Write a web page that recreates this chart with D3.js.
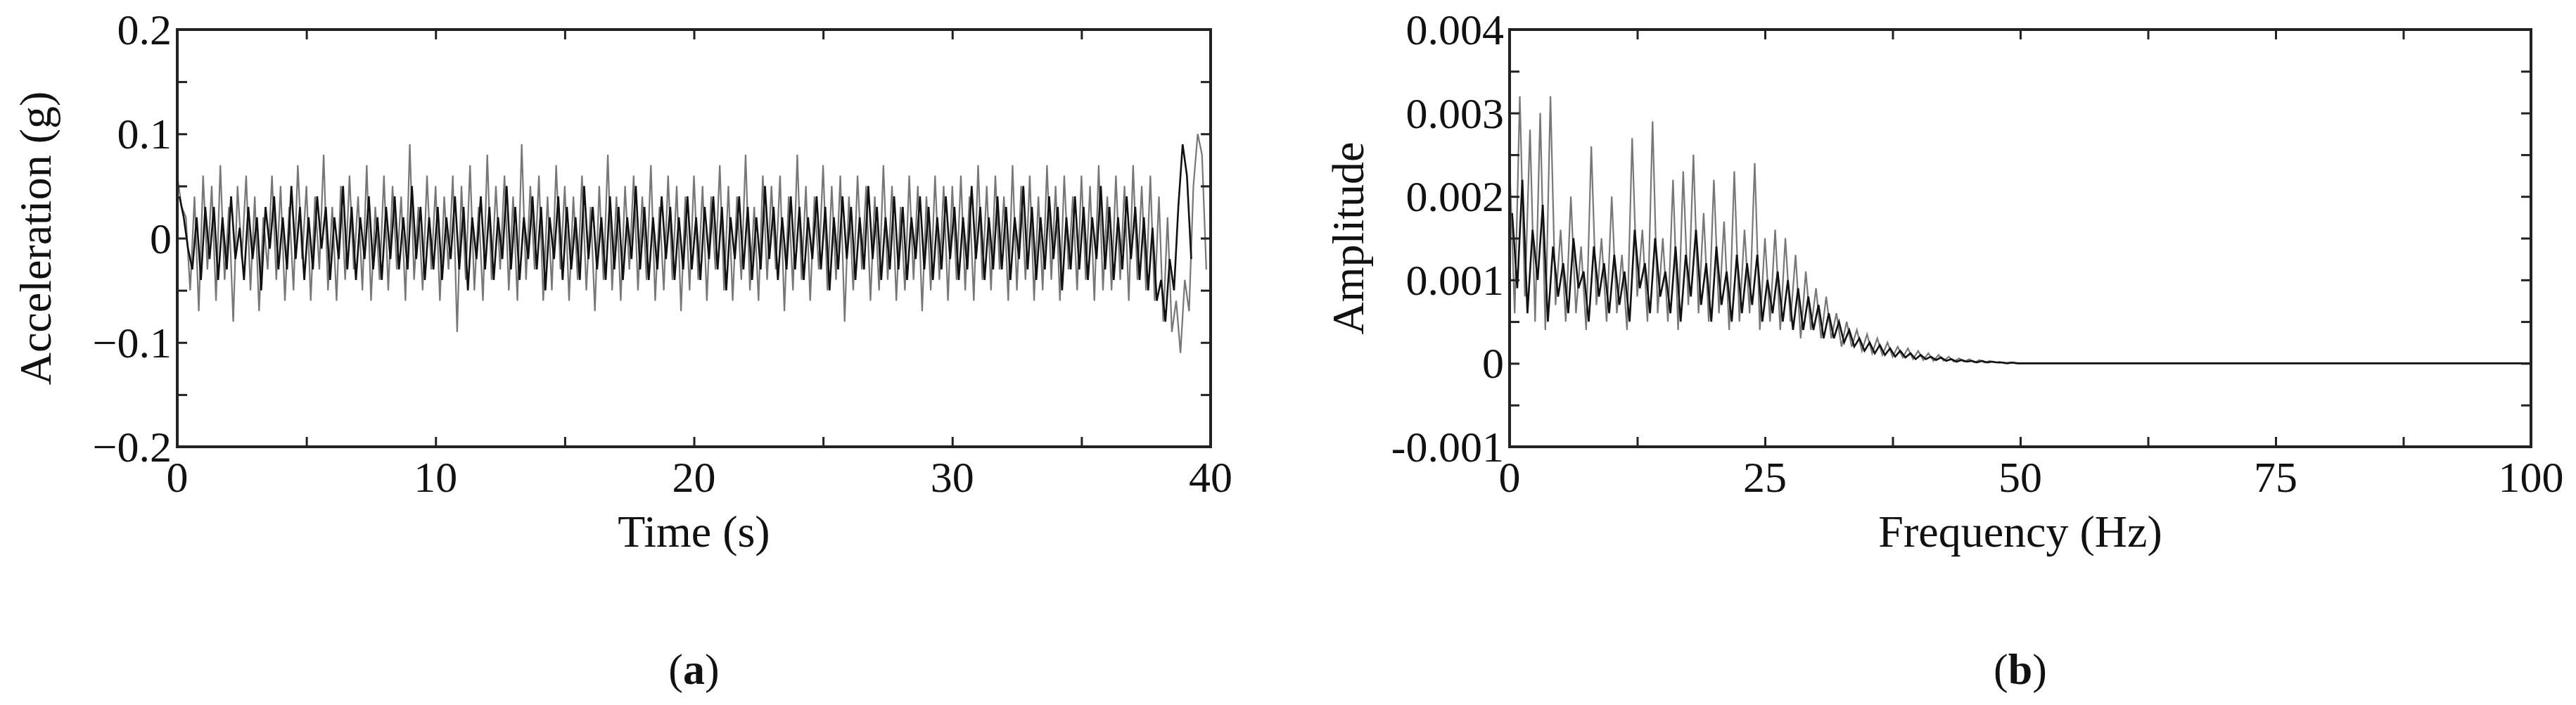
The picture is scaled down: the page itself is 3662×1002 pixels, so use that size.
<!DOCTYPE html>
<html><head><meta charset="utf-8">
<script src="https://cdn.jsdelivr.net/npm/d3@7"></script>
<style>body{margin:0;background:#fff}svg{display:block}text{font-family:"Liberation Serif","DejaVu Serif",serif;fill:#111}</style>
</head><body>
<script>
// Panel (a): acceleration time history, sampled every 1/6 s from 0 to 40 s (g)
const accelStep = 1/6;
const accel = [
.06,.03,.02,-.05,.04,-.07,.06,-.03,.05,-.06,.07,-.04,.03,-.08,.05,-.02,.06,-.05,.04,-.07,.02,-.03,.06,-.04,.05,-.06,.03,-.05,.07,-.02,.05,-.06,.04,-.03,.08,-.05,.03,-.06,.05,-.04,.06,-.03,.04,-.05,.07,-.06,.03,-.04,.06,-.05,.05,-.03,.04,-.06,.09,-.04,.03,-.05,.06,-.03,
.05,-.06,.04,-.03,.06,-.09,.05,-.04,.07,-.05,.03,-.06,.08,-.04,.05,-.03,.06,-.05,.04,-.06,.09,-.04,.05,-.03,.06,-.06,.04,-.05,.07,-.03,.05,-.06,.04,-.04,.06,-.05,.03,-.07,.05,-.04,.08,-.05,.04,-.06,.05,-.03,.06,-.05,.04,-.04,.07,-.06,.03,-.05,.06,-.04,.05,-.07,.04,-.05,
.06,-.04,.05,-.06,.04,-.03,.07,-.05,.05,-.06,.04,-.04,.08,-.05,.03,-.06,.06,-.04,.05,-.03,.06,-.07,.04,-.05,.08,-.04,.05,-.06,.04,-.03,.07,-.05,.05,-.04,.06,-.08,.04,-.05,.06,-.03,.05,-.06,.04,-.05,.07,-.04,.05,-.06,.03,-.05,.06,-.04,.05,-.07,.04,-.05,.06,-.04,.05,-.06,
.05,-.04,.06,-.05,.04,-.06,.07,-.04,.05,-.05,.06,-.03,.04,-.06,.07,-.05,.05,-.04,.06,-.06,.04,-.05,.07,-.04,.05,-.06,.06,-.03,.04,-.05,.06,-.04,.05,-.06,.07,-.05,.04,-.05,.06,-.04,.05,-.06,.07,-.04,.05,-.05,.06,-.06,.04,-.08,.02,-.09,-.06,-.11,-.04,-.07,.05,.1,.08,-.03];
// second trace (grey, dense core), sampled between the samples above
const accelCore = [
.04,.02,-.01,-.03,.02,-.04,.03,-.02,.03,-.04,.02,-.03,.04,-.02,.01,-.04,.03,-.02,.02,-.05,.03,-.01,.04,-.03,.02,-.03,.05,-.02,.03,-.04,.02,-.03,.04,-.01,.03,-.04,.02,-.02,.05,-.03,.03,-.04,.02,-.02,.04,-.03,.02,-.04,.03,-.02,.04,-.03,.02,-.03,.05,-.02,.03,-.04,.02,-.03,
.03,-.04,.02,-.02,.04,-.03,.03,-.05,.02,-.02,.04,-.03,.03,-.04,.02,-.02,.05,-.03,.03,-.04,.02,-.02,.04,-.03,.03,-.05,.02,-.02,.04,-.04,.03,-.03,.02,-.04,.05,-.02,.03,-.03,.02,-.04,.04,-.03,.03,-.04,.02,-.02,.05,-.03,.03,-.04,.02,-.03,.04,-.02,.03,-.04,.02,-.03,
.04,-.03,.02,-.04,.03,-.02,.04,-.03,.03,-.05,.02,-.02,.04,-.03,.03,-.04,.02,-.03,.05,-.02,.03,-.04,.02,-.03,.04,-.03,.03,-.04,.02,-.02,.04,-.03,.03,-.05,.02,-.03,.04,-.02,.03,-.04,.02,-.03,.05,-.02,.03,-.04,.02,-.03,.04,-.03,.03,-.04,.02,-.02,.04,-.03,.03,-.04,.02,-.03,
.04,-.02,.03,-.04,.02,-.03,.05,-.02,.03,-.04,.02,-.03,.04,-.03,.03,-.04,.02,-.02,.05,-.03,.03,-.04,.02,-.03,.04,-.02,.03,-.05,.02,-.03,.04,-.03,.03,-.04,.02,-.02,.05,-.03,.03,-.04,.02,-.03,.04,-.02,.03,-.04,.02,-.05,.01,-.06,-.04,-.08,-.02,-.05,.03,.09,.06,-.02];
const accelTicks = [0,10,20,30,40];
const accelYTicks = [-0.2,-0.1,0,0.1,0.2];
const accelYLabels = ["\u22120.2","\u22120.1","0","0.1","0.2"];

// Panel (b): Fourier amplitude spectrum (×0.001), sampled every 0.5 Hz from 0 to 49.5 Hz, zero up to 100 Hz
const specStep = 0.5;
const spectrum = [
2.4,0.6,3.2,0.8,2.8,0.5,3.0,0.4,3.2,0.7,
1.6,0.5,2.0,0.6,1.4,0.4,2.6,0.7,1.5,0.5,
2.0,0.6,1.3,0.4,2.7,0.8,1.6,0.5,2.9,0.6,
1.5,0.5,2.2,0.4,2.3,0.7,2.5,0.6,1.8,0.5,
2.2,0.6,1.7,0.4,2.3,0.5,1.6,0.6,2.4,0.4,
1.5,0.5,1.6,0.4,1.5,0.5,1.3,0.3,1.1,0.4,
0.9,0.3,0.8,0.3,0.6,0.2,0.5,0.2,0.4,0.15,
0.35,0.12,0.3,0.1,0.25,0.08,0.2,0.07,0.18,0.05,
0.15,0.04,0.12,0.03,0.1,0.03,0.08,0.02,0.06,0.02,
0.05,0.01,0.04,0.01,0.03,0.01,0.02,0,0.01,0];
// second trace (dense core), sampled between the samples above
const spectrumCore = [
1.8,0.9,2.2,0.6,1.6,1.0,1.9,0.5,1.4,0.8,
1.2,0.6,1.5,0.9,1.1,0.5,1.4,0.8,1.2,0.6,
1.3,0.7,1.1,0.5,1.6,0.9,1.2,0.6,1.5,0.8,
1.1,0.6,1.4,0.5,1.3,0.8,1.6,0.7,1.2,0.5,
1.4,0.7,1.1,0.5,1.3,0.6,1.2,0.7,1.3,0.5,
1.0,0.6,1.1,0.5,1.0,0.4,0.9,0.4,0.8,0.4,
0.7,0.3,0.6,0.3,0.5,0.25,0.4,0.2,0.3,0.15,
0.25,0.12,0.22,0.1,0.18,0.08,0.15,0.07,0.12,0.05,
0.1,0.05,0.08,0.04,0.07,0.03,0.05,0.02,0.04,0.02,
0.03,0.01,0.03,0.01,0.02,0.01,0.01,0,0.01,0];
const specTail = [[50,0],[100,0]];
const specXTicks = [0,25,50,75,100];
const specYTicks = [-1,0,1,2,3,4];
const specYLabels = ["-0.001","0","0.001","0.002","0.003","0.004"];

const W=3662,H=1002;
const svg=d3.select("body").append("svg").attr("width",W).attr("height",H);

function panel(o){
  const g=svg.append("g");
  const x=d3.scaleLinear().domain(o.xd).range([o.x0,o.x1]);
  const y=d3.scaleLinear().domain(o.yd).range([o.y1,o.y0]);
  const line=d3.line().x(d=>x(d[0])).y(d=>y(d[1]));
  g.append("path").datum(o.data).attr("fill","none").attr("stroke","#777").attr("stroke-width",2.2).attr("d",line);
  g.append("path").datum(o.core).attr("fill","none").attr("stroke","#111").attr("stroke-width",2.6).attr("d",line);
  g.append("rect").attr("x",o.x0).attr("y",o.y0).attr("width",o.x1-o.x0).attr("height",o.y1-o.y0)
    .attr("fill","none").attr("stroke","#222").attr("stroke-width",4);
  const tl=14;
  g.append("g").attr("transform",`translate(0,${o.y1})`).call(d3.axisBottom(x).tickValues(o.xMinor).tickSize(-tl).tickFormat(""));
  g.append("g").attr("transform",`translate(0,${o.y0})`).call(d3.axisTop(x).tickValues(o.xMinor).tickSize(-tl).tickFormat(""));
  g.append("g").attr("transform",`translate(${o.x0},0)`).call(d3.axisLeft(y).tickValues(o.yMinor).tickSize(-tl).tickFormat(""));
  g.append("g").attr("transform",`translate(${o.x1},0)`).call(d3.axisRight(y).tickValues(o.yMinor).tickSize(-tl).tickFormat(""));
  g.selectAll(".domain").remove();
  g.selectAll(".tick line").attr("stroke","#222").attr("stroke-width",3);
  o.xt.forEach(v=>g.append("text").attr("x",x(v)).attr("y",o.y1+64).attr("text-anchor","middle").attr("font-size",62).text(v));
  o.yt.forEach((v,i)=>g.append("text").attr("x",o.x0-8).attr("y",y(v)+21).attr("text-anchor","end").attr("font-size",62).text(o.yl[i]));
  g.append("text").attr("x",(o.x0+o.x1)/2).attr("y",o.y1+142).attr("text-anchor","middle").attr("font-size",64).text(o.xTitle);
  g.append("text").attr("transform",`translate(${o.ytx},${(o.y0+o.y1)/2}) rotate(-90)`).attr("text-anchor","middle").attr("font-size",64).text(o.yTitle);
  g.append("text").attr("x",(o.x0+o.x1)/2).attr("y",972).attr("text-anchor","middle").attr("font-size",62)
    .html(`(<tspan font-weight="bold">${o.tag}</tspan>)`);
}

panel({x0:252,x1:1721,y0:42,y1:635,xd:[0,40],yd:[-0.2,0.2],
  data:accel.map((v,i)=>[i*accelStep,v]),
  core:accelCore.map((v,i)=>[(i+0.5)*accelStep,v]),
  xt:accelTicks,yt:accelYTicks,yl:accelYLabels,
  xMinor:[5,10,15,20,25,30,35],yMinor:[-0.15,-0.1,-0.05,0,0.05,0.1,0.15],
  xTitle:"Time (s)",yTitle:"Acceleration (g)",ytx:72,tag:"a"});

panel({x0:2146,x1:3598,y0:42,y1:635,xd:[0,100],yd:[-1,4],
  data:spectrum.map((v,i)=>[i*specStep,v]).concat(specTail),
  core:spectrumCore.map((v,i)=>[(i+0.5)*specStep,v]).concat(specTail),
  xt:specXTicks,yt:specYTicks,yl:specYLabels,
  xMinor:[12.5,25,37.5,50,62.5,75,87.5],yMinor:[-0.5,0,0.5,1,1.5,2,2.5,3,3.5],
  xTitle:"Frequency (Hz)",yTitle:"Amplitude",ytx:1938,tag:"b"});
</script>
</body></html>
